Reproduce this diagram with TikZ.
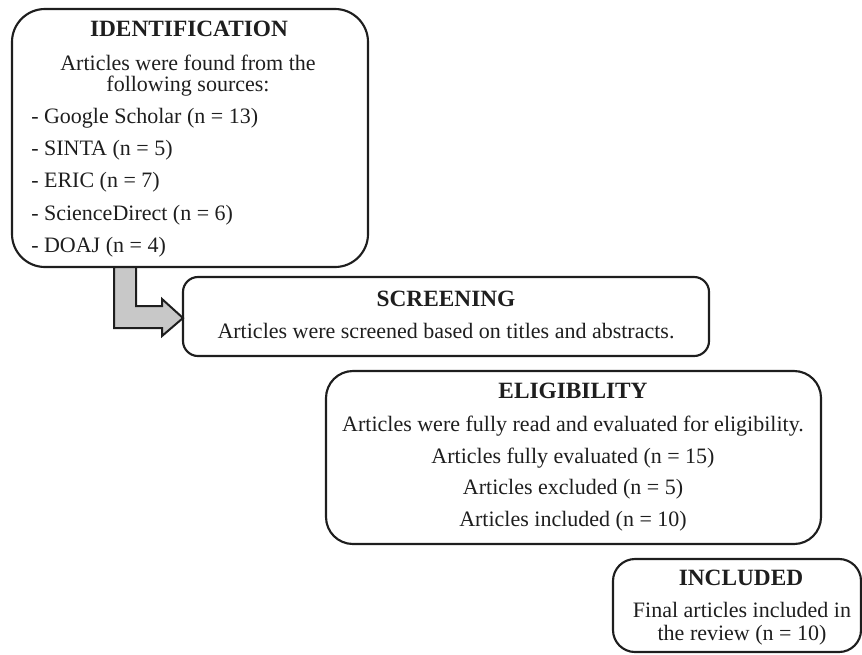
\documentclass[tikz,border=0pt]{standalone}
\usepackage{fontspec}
\setmainfont{Liberation Serif}
\definecolor{ink}{HTML}{1E1E1E}
\definecolor{arrowgray}{HTML}{C8C8C8}
\begin{document}
\begin{tikzpicture}[x=0.75pt,y=-0.75pt,
  box/.style={draw=ink,line width=1.6pt},
  txt/.style={inner sep=0pt,anchor=base,text=ink,font=\fontsize{16.5}{19}\selectfont},
  ttl/.style={txt,font=\fontsize{17.5}{20}\selectfont\bfseries},
  lst/.style={txt,anchor=base west}]
\useasboundingbox (0,0) rectangle (862,654);
\begin{scope}
\clip (0,0) rectangle (862,654);
% boxes
\draw[box,rounded corners=33*0.75pt] (12,9) rectangle (368,267);
\draw[box,rounded corners=15*0.75pt] (183,277) rectangle (709,356);
\draw[box,rounded corners=27*0.75pt] (326,371) rectangle (821,544);
\draw[box,rounded corners=22*0.75pt] (613,559) rectangle (861,652);
\end{scope}
% block arrow
\draw[draw=ink,fill=arrowgray,line width=1.5pt,line join=miter]
  (114,267) -- (136,267) -- (136,306) -- (162,306) -- (162,299) -- (183,318)
  -- (162,336) -- (162,328) -- (114,328) -- cycle;
% identification
\node[ttl] (idt) at (189,36) {IDENTIFICATION};
\node[txt] (id1) at (188,70) {Articles were found from the};
\node[txt] (id2) at (188,91) {following sources:};
\node[lst] (s1) at (31,123) {- Google Scholar (n = 13)};
\node[lst] (s2) at (31,155) {- SINTA (n = 5)};
\node[lst] (s3) at (31,187) {- ERIC (n = 7)};
\node[lst] (s4) at (31,220) {- ScienceDirect (n = 6)};
\node[lst] (s5) at (31,252) {- DOAJ (n = 4)};
% screening
\node[ttl] (sct) at (446,306) {SCREENING};
\node[txt] (sc1) at (446,338) {Articles were screened based on titles and abstracts.};
% eligibility
\node[ttl] (elt) at (573,398) {ELIGIBILITY};
\node[txt] (el1) at (573,431) {Articles were fully read and evaluated for eligibility.};
\node[txt] (el2) at (573,463) {Articles fully evaluated (n = 15)};
\node[txt] (el3) at (573,494) {Articles excluded (n = 5)};
\node[txt] (el4) at (573,526) {Articles included (n = 10)};
% included
\node[ttl] (int) at (741,585) {INCLUDED};
\node[txt] (in1) at (742,617) {Final articles included in};
\node[txt] (in2) at (742,640) {the review (n = 10)};
\end{tikzpicture}
\end{document}
